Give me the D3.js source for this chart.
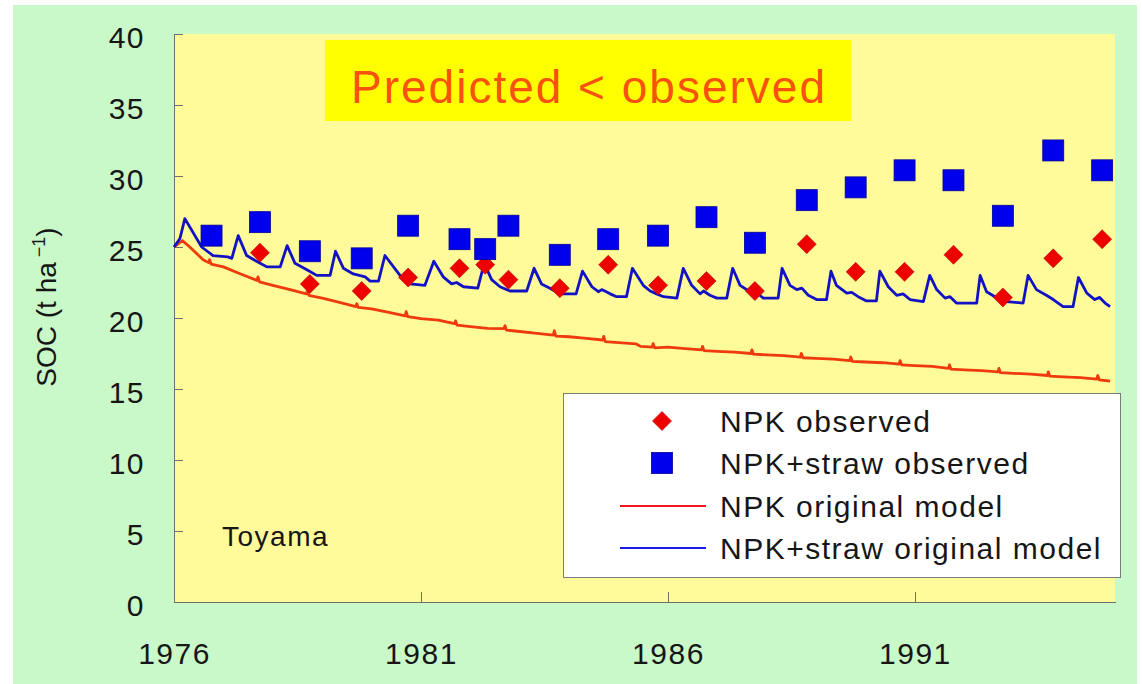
<!DOCTYPE html>
<html lang="en">
<head>
  <meta charset="UTF-8">
  <title>SOC Toyama</title>
  <style>
    body {
      margin: 0;
      background: #fff;
      font-family: "Liberation Sans", Arial, sans-serif;
    }
    .axis path,
    .axis line {
      fill: none;
      stroke: #707070;
      stroke-width: 1.5;
      shape-rendering: crispEdges;
    }
    .axis text {
      font-family: "Liberation Sans", Arial, sans-serif;
      font-size: 30px;
      fill: #161616;
      letter-spacing: 1.5px;
    }
    .legend text {
      font-size: 30px;
      fill: #161616;
      letter-spacing: 1.5px;
    }
  </style>
  <script src="https://d3js.org/d3.v7.min.js"></script>
</head>
<body>
  <div id="chart"></div>
  <script>
    // sampling dates of the observed plots (decimal year)
    var obsYears = [1976.76, 1977.74, 1978.75, 1979.80, 1980.74, 1981.78, 1982.30, 1982.77, 1983.81, 1984.79,
                    1985.80, 1986.78, 1987.76, 1988.81, 1989.80, 1990.79, 1991.78, 1992.78, 1993.80, 1994.79];
    var npkObserved = [null, 24.6, 22.4, 21.9, 22.85, 23.5, 23.75, 22.7, 22.1, 23.75,
                       22.3, 22.6, 21.9, 25.2, 23.25, 23.25, 24.45, 21.45, 24.2, 25.55];
    var strawObserved = [25.8, 26.75, 24.7, 24.2, 26.5, 25.55, 24.85, 26.5, 24.45, 25.55,
                         25.8, 27.1, 25.3, 28.3, 29.2, 30.4, 29.7, 27.2, 31.8, 30.4];

    // model runs [year, SOC]
    var npkModel = [
      [1976.00, 25.0], [1976.17, 25.45], [1976.32, 25.0], [1976.59, 24.1], [1976.70, 23.9], [1976.72, 24.1], [1976.75, 23.8],
      [1977.00, 23.6], [1977.35, 23.1], [1977.68, 22.65], [1977.70, 22.9], [1977.73, 22.55],
      [1978.00, 22.3], [1978.35, 22.0], [1978.68, 21.7], [1978.70, 21.9], [1978.73, 21.6],
      [1979.00, 21.4], [1979.35, 21.1], [1979.68, 20.8], [1979.70, 21.0], [1979.73, 20.75],
      [1980.00, 20.65], [1980.35, 20.4], [1980.68, 20.15], [1980.70, 20.45], [1980.73, 20.1],
      [1981.00, 19.95], [1981.35, 19.85], [1981.68, 19.6], [1981.70, 19.8], [1981.73, 19.5],
      [1982.00, 19.4], [1982.35, 19.27], [1982.68, 19.25], [1982.70, 19.45], [1982.73, 19.15],
      [1983.00, 19.05], [1983.35, 18.92], [1983.68, 18.8], [1983.70, 19.1], [1983.73, 18.73],
      [1984.00, 18.68], [1984.35, 18.57], [1984.68, 18.45], [1984.70, 18.7], [1984.73, 18.33],
      [1985.00, 18.26], [1985.35, 18.18], [1985.45, 18.0], [1985.68, 17.95], [1985.70, 18.2], [1985.73, 17.9],
      [1986.00, 17.95], [1986.35, 17.85], [1986.68, 17.75], [1986.70, 18.0], [1986.73, 17.7],
      [1987.00, 17.65], [1987.35, 17.6], [1987.68, 17.5], [1987.70, 17.75], [1987.73, 17.45],
      [1988.00, 17.4], [1988.35, 17.35], [1988.68, 17.25], [1988.70, 17.5], [1988.73, 17.2],
      [1989.00, 17.15], [1989.35, 17.1], [1989.68, 17.0], [1989.70, 17.25], [1989.73, 16.95],
      [1990.00, 16.9], [1990.35, 16.85], [1990.68, 16.75], [1990.70, 17.0], [1990.73, 16.7],
      [1991.00, 16.65], [1991.35, 16.6], [1991.68, 16.45], [1991.70, 16.7], [1991.73, 16.4],
      [1992.00, 16.35], [1992.35, 16.3], [1992.68, 16.2], [1992.70, 16.45], [1992.73, 16.15],
      [1993.00, 16.1], [1993.35, 16.05], [1993.68, 15.95], [1993.70, 16.2], [1993.73, 15.9],
      [1994.00, 15.85], [1994.35, 15.8], [1994.68, 15.7], [1994.70, 15.95], [1994.73, 15.65],
      [1994.95, 15.55]
    ];
    var strawModel = [
      [1976.00, 25.0], [1976.12, 25.6], [1976.22, 27.0], [1976.56, 25.0], [1976.79, 24.4], [1977.09, 24.3], [1977.17, 24.2],
      [1977.30, 25.8], [1977.47, 24.4], [1977.67, 24.0], [1977.88, 23.6], [1978.15, 23.6],
      [1978.29, 25.1], [1978.45, 23.85], [1978.69, 23.4], [1978.89, 23.0], [1979.16, 23.0],
      [1979.27, 24.7], [1979.43, 23.5], [1979.63, 23.1], [1979.87, 22.9], [1979.97, 22.6], [1980.14, 22.6],
      [1980.27, 24.4], [1980.51, 23.3], [1980.64, 22.7], [1980.78, 22.4], [1981.08, 22.3],
      [1981.26, 24.0], [1981.45, 22.9], [1981.62, 22.4], [1981.72, 22.5], [1981.86, 22.2], [1982.15, 22.1],
      [1982.28, 23.85], [1982.43, 22.7], [1982.60, 22.2], [1982.80, 21.9], [1983.14, 21.9],
      [1983.29, 23.5], [1983.44, 22.4], [1983.61, 22.1], [1983.81, 21.7], [1984.14, 21.7],
      [1984.27, 23.3], [1984.46, 22.2], [1984.59, 21.85], [1984.66, 22.0], [1984.83, 21.7], [1984.96, 21.5], [1985.16, 21.5],
      [1985.28, 23.5], [1985.50, 22.3], [1985.64, 21.9], [1985.77, 21.7], [1985.91, 21.5], [1986.18, 21.4],
      [1986.31, 23.5], [1986.48, 22.3], [1986.65, 21.7], [1986.72, 21.9], [1986.85, 21.6], [1986.99, 21.4], [1987.19, 21.4],
      [1987.31, 23.5], [1987.46, 22.3], [1987.66, 21.85], [1987.86, 21.6], [1987.93, 21.4], [1988.23, 21.4],
      [1988.31, 23.5], [1988.47, 22.3], [1988.61, 22.0], [1988.71, 22.1], [1988.84, 21.6], [1989.01, 21.3], [1989.21, 21.3],
      [1989.30, 23.3], [1989.41, 22.3], [1989.62, 21.75], [1989.72, 21.8], [1989.85, 21.5], [1990.02, 21.2], [1990.22, 21.2],
      [1990.29, 23.3], [1990.46, 22.2], [1990.63, 21.6], [1990.76, 21.7], [1990.90, 21.3], [1991.17, 21.15],
      [1991.30, 23.0], [1991.44, 22.0], [1991.61, 21.4], [1991.71, 21.5], [1991.84, 21.05], [1992.25, 21.05],
      [1992.32, 23.0], [1992.45, 21.85], [1992.62, 21.5], [1992.86, 21.15], [1993.19, 21.05],
      [1993.29, 23.0], [1993.46, 22.0], [1993.66, 21.6], [1993.80, 21.3], [1994.00, 20.8], [1994.20, 20.8],
      [1994.31, 22.85], [1994.48, 21.75], [1994.64, 21.3], [1994.74, 21.45], [1994.85, 21.05], [1994.95, 20.8]
    ];

    var yTicks = [0, 5, 10, 15, 20, 25, 30, 35, 40];
    var xTicks = [1976, 1981, 1986, 1991];
    var legendLabels = ['NPK observed', 'NPK+straw observed', 'NPK original model', 'NPK+straw original model'];

    var width = 1142, height = 684;
    var plot = {left: 174, right: 1115, top: 34, bottom: 602};

    var x = d3.scaleLinear().domain([1976, 1995.05]).range([plot.left, plot.right]);
    var y = d3.scaleLinear().domain([0, 40]).range([plot.bottom, plot.top]);

    var svg = d3.select('#chart').append('svg')
      .attr('width', width)
      .attr('height', height);

    // slide background
    svg.append('rect').attr('x', 13).attr('y', 5).attr('width', 1124).attr('height', 679).attr('fill', '#c9f9c9');
    svg.append('rect')
      .attr('x', plot.left).attr('y', plot.top)
      .attr('width', plot.right - plot.left).attr('height', plot.bottom - plot.top)
      .attr('fill', '#fffb9b');

    svg.append('g').attr('class', 'y axis')
      .attr('transform', 'translate(' + plot.left + ',0)')
      .call(d3.axisLeft(y).tickValues(yTicks).tickSize(-9).tickSizeOuter(0).tickPadding(29))
      .selectAll('text').attr('dy', '0.45em');

    svg.append('g').attr('class', 'x axis')
      .attr('transform', 'translate(0,' + plot.bottom + ')')
      .call(d3.axisBottom(x).tickValues(xTicks).tickFormat(d3.format('d')).tickSize(-10).tickSizeOuter(0).tickPadding(41));

    // y title
    var yTitle = svg.append('text')
      .attr('transform', 'translate(56,307) rotate(-90)')
      .attr('text-anchor', 'middle')
      .style('font-size', '28px')
      .style('fill', '#161616');
    yTitle.append('tspan').text('SOC (t ha');
    yTitle.append('tspan').attr('dx', 5).attr('dy', -11).style('font-size', '18px').text('−1');
    yTitle.append('tspan').attr('dy', 11).text(')');

    var line = d3.line()
      .x(function(d) { return x(d[0]); })
      .y(function(d) { return y(d[1]); });

    svg.append('path').datum(npkModel)
      .attr('d', line)
      .attr('fill', 'none').attr('stroke', '#ee3a0c').attr('stroke-width', 2.8)
      .attr('stroke-linejoin', 'round');

    svg.append('path').datum(strawModel)
      .attr('d', line)
      .attr('fill', 'none').attr('stroke', '#1212c4').attr('stroke-width', 2.8)
      .attr('stroke-linejoin', 'round');

    var diamond = 'M0,-9.5L9.5,0L0,9.5L-9.5,0Z';

    var redPts = obsYears.map(function(t, i) { return [t, npkObserved[i]]; })
      .filter(function(d) { return d[1] != null; });
    var bluePts = obsYears.map(function(t, i) { return [t, strawObserved[i]]; });

    svg.selectAll('.npk').data(redPts).enter().append('path')
      .attr('class', 'npk')
      .attr('d', diamond)
      .attr('transform', function(d) { return 'translate(' + x(d[0]) + ',' + y(d[1]) + ')'; })
      .attr('fill', '#ee0000').attr('stroke', '#b80000').attr('stroke-width', 0.6);

    svg.selectAll('.straw').data(bluePts).enter().append('rect')
      .attr('class', 'straw')
      .attr('x', function(d) { return x(d[0]) - 10.5; })
      .attr('y', function(d) { return y(d[1]) - 10.5; })
      .attr('width', 21).attr('height', 21)
      .attr('fill', '#0000ea').attr('stroke', '#00009c').attr('stroke-width', 0.8);

    // headline box
    svg.append('rect').attr('x', 325).attr('y', 40).attr('width', 526).attr('height', 81).attr('fill', '#ffff00');
    svg.append('text')
      .attr('x', 589).attr('y', 103)
      .attr('text-anchor', 'middle')
      .style('font-size', '46px').style('letter-spacing', '2px')
      .style('fill', '#f8520e')
      .text('Predicted < observed');

    svg.append('text')
      .attr('x', 222).attr('y', 546)
      .style('font-size', '28px').style('letter-spacing', '1.5px')
      .style('fill', '#161616')
      .text('Toyama');

    // legend
    var legend = svg.append('g').attr('class', 'legend');
    legend.append('rect')
      .attr('x', 563.5).attr('y', 393.5).attr('width', 557).attr('height', 184)
      .attr('fill', '#fff').attr('stroke', '#7a7a7a').attr('stroke-width', 1);

    var rowY = [421, 463, 506, 548];
    legend.append('path').attr('d', diamond)
      .attr('transform', 'translate(662,' + rowY[0] + ')')
      .attr('fill', '#ee0000').attr('stroke', '#b80000').attr('stroke-width', 0.6);
    legend.append('rect').attr('x', 651.5).attr('y', rowY[1] - 10.5).attr('width', 21).attr('height', 21)
      .attr('fill', '#0000ea').attr('stroke', '#00009c').attr('stroke-width', 0.8);
    legend.append('line').attr('x1', 620).attr('x2', 706).attr('y1', rowY[2]).attr('y2', rowY[2])
      .attr('stroke', '#f01818').attr('stroke-width', 2);
    legend.append('line').attr('x1', 620).attr('x2', 706).attr('y1', rowY[3]).attr('y2', rowY[3])
      .attr('stroke', '#1a1ae0').attr('stroke-width', 2);

    legend.selectAll('.lab').data(legendLabels).enter().append('text')
      .attr('class', 'lab')
      .attr('x', 720)
      .attr('y', function(d, i) { return rowY[i] + 11; })
      .text(function(d) { return d; });
  </script>
</body>
</html>
